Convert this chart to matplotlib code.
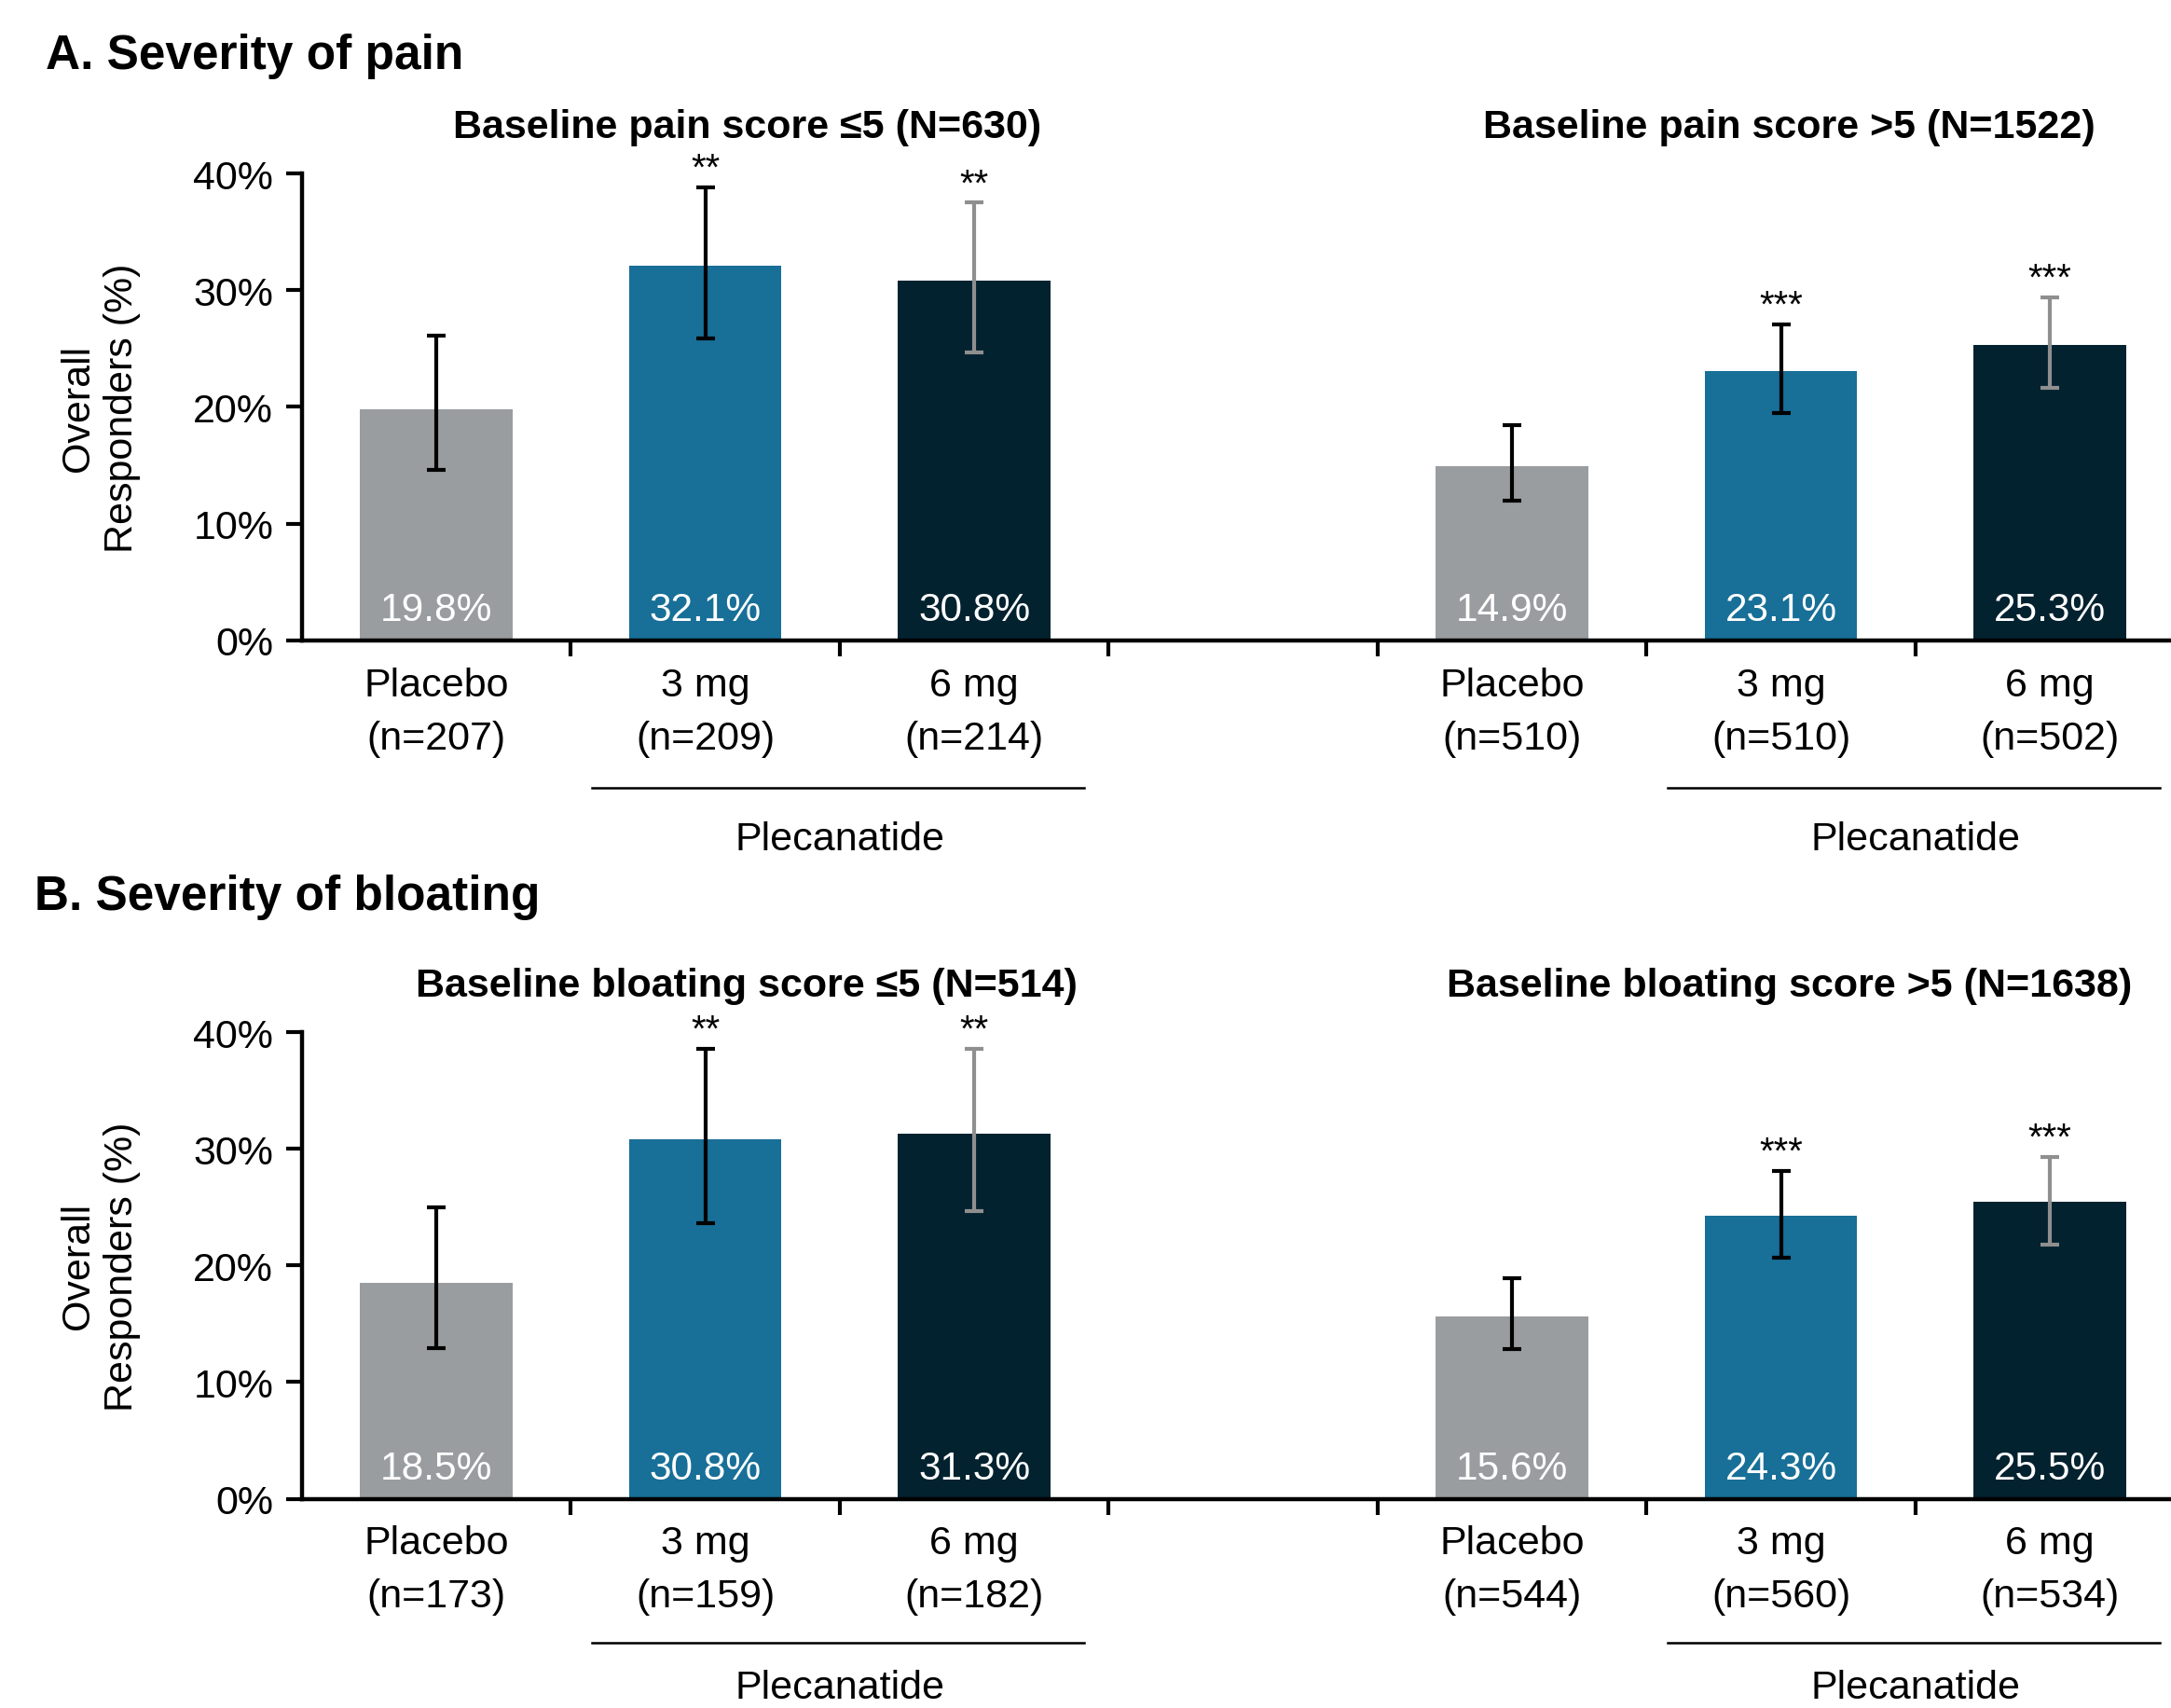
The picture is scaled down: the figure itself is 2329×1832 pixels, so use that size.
import numpy as np
import matplotlib
matplotlib.use("Agg")
import matplotlib.pyplot as plt
from matplotlib.transforms import blended_transform_factory

plt.rcParams["font.family"] = ["Liberation Sans", "DejaVu Sans"]

# 資料
doses = ["Placebo", "3 mg", "6 mg"]
colors = ["#9a9da0", "#186f97", "#03222f"]
err_colors = ["black", "black", "#8f8f8f"]

panel_titles = ["A. Severity of pain", "B. Severity of bloating"]
group_titles = [
    ["Baseline pain score ≤5 (N=630)", "Baseline pain score >5 (N=1522)"],
    ["Baseline bloating score ≤5 (N=514)", "Baseline bloating score >5 (N=1638)"],
]

# 數值 (%): 每個面板 = [低分組, 高分組]
pain_values = [[19.8, 32.1, 30.8], [14.9, 23.1, 25.3]]
pain_low = [[14.6, 25.9, 24.7], [12.0, 19.5, 21.6]]
pain_high = [[26.1, 38.8, 37.5], [18.4, 27.1, 29.4]]
pain_n = [[207, 209, 214], [510, 510, 502]]
pain_stars = [["", "**", "**"], ["", "***", "***"]]

bloat_values = [[18.5, 30.8, 31.3], [15.6, 24.3, 25.5]]
bloat_low = [[12.9, 23.6, 24.7], [12.8, 20.7, 21.8]]
bloat_high = [[25.0, 38.6, 38.6], [18.9, 28.1, 29.3]]
bloat_n = [[173, 159, 182], [544, 560, 534]]
bloat_stars = [["", "**", "**"], ["", "***", "***"]]

panels = [
    (pain_values, pain_low, pain_high, pain_n, pain_stars),
    (bloat_values, bloat_low, bloat_high, bloat_n, bloat_stars),
]

fig = plt.figure(figsize=(23.29, 18.33), dpi=100)
axes_rects = [[0.139, 0.6248, 0.861, 0.2731], [0.139, 0.1224, 0.861, 0.2731]]
title_pos = [(0.021, 0.967), (0.016, 0.475)]
plec_y = [(-0.317, -0.427), (-0.309, -0.405)]

for p, (values, low, high, ns, stars) in enumerate(panels):
    ax = fig.add_axes(axes_rects[p])
    trans = blended_transform_factory(ax.transData, ax.transAxes)
    tick_pos = []
    tick_lab = []
    for g in range(2):
        xs = np.arange(3) + g * 4
        for i in range(3):
            x = xs[i]
            v = values[g][i]
            ax.bar(x, v, width=0.567, color=colors[i], zorder=2)
            ax.errorbar(x, v, yerr=[[v - low[g][i]], [high[g][i] - v]],
                        fmt="none", ecolor=err_colors[i], elinewidth=3,
                        capsize=7, capthick=3, zorder=3)
            ax.text(x, 2.6, f"{v:.1f}%", color="white", ha="center",
                    va="center", fontsize=30.5, zorder=4)
            if stars[g][i]:
                ax.text(x, high[g][i] + 0.1, stars[g][i], ha="center",
                        va="bottom", fontsize=29)
            tick_pos.append(x)
            tick_lab.append(f"{doses[i]}\n(n={ns[g][i]})")
        # Plecanatide 底線與標籤
        ax.plot([xs[1] - 0.42, xs[2] + 0.41], [plec_y[p][0]] * 2, color="black",
                lw=1.8, transform=trans, clip_on=False)
        ax.text(xs[1] + 0.5, plec_y[p][1], "Plecanatide", ha="center", va="center",
                fontsize=31, transform=trans)
        ax.text([1.155, 5.03][g], 1.10, group_titles[p][g], ha="center",
                va="center", fontsize=31, fontweight="bold", transform=trans)

    ax.set_xlim(-0.5, 6.45)
    ax.set_ylim(0, 40)
    ax.set_yticks([0, 10, 20, 30, 40])
    ax.set_yticklabels([f"{t}%" for t in [0, 10, 20, 30, 40]])
    ax.set_xticks(tick_pos)
    ax.set_xticklabels(tick_lab, linespacing=1.55)
    ax.set_xticks(np.arange(0.5, 6.5, 1.0), minor=True)
    ax.tick_params(axis="x", which="major", length=0, pad=20, labelsize=31)
    ax.tick_params(axis="x", which="minor", length=12, width=3, direction="out")
    ax.tick_params(axis="y", length=12, width=3, pad=10, labelsize=31)
    for s in ["top", "right"]:
        ax.spines[s].set_visible(False)
    for s in ["left", "bottom"]:
        ax.spines[s].set_linewidth(3.2)
    ax.set_ylabel("Overall\nResponders (%)", fontsize=31, linespacing=1.25)
    ax.yaxis.set_label_coords(-0.086, 0.5)

    fig.text(title_pos[p][0], title_pos[p][1], panel_titles[p], fontsize=37,
             fontweight="bold", ha="left", va="center")

plt.savefig("out.png", dpi=100)
